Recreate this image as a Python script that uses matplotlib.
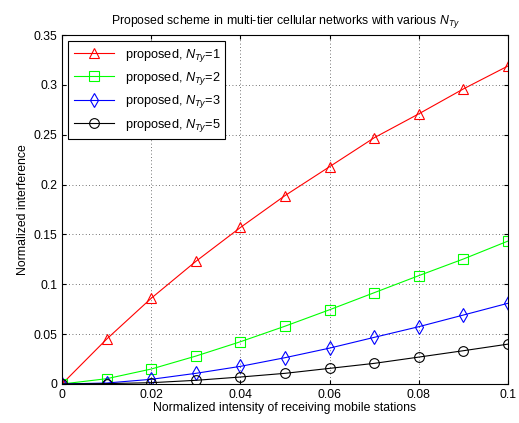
import matplotlib
matplotlib.use("Agg")
import matplotlib.pyplot as plt

plt.rcParams["font.family"] = ["Liberation Sans", "DejaVu Sans"]
plt.rcParams["mathtext.fontset"] = "custom"
plt.rcParams["mathtext.it"] = "Liberation Sans:italic"
plt.rcParams["mathtext.rm"] = "Liberation Sans"

x = [0, 0.01, 0.02, 0.03, 0.04, 0.05, 0.06, 0.07, 0.08, 0.09, 0.1]
nty1 = [0, 0.045, 0.086, 0.123, 0.157, 0.189, 0.218, 0.247, 0.271, 0.296, 0.319]
nty2 = [0, 0.0053, 0.015, 0.028, 0.0424, 0.058, 0.0745, 0.0916, 0.1087, 0.1254, 0.1434]
nty3 = [0, 0.001, 0.0047, 0.0107, 0.0177, 0.0264, 0.036, 0.0468, 0.0575, 0.0692, 0.081]
nty5 = [0, 0.0004, 0.0013, 0.0037, 0.007, 0.0107, 0.0157, 0.0207, 0.027, 0.0334, 0.040]

labels = [r"proposed, $N_{Ty}$=1", r"proposed, $N_{Ty}$=2",
          r"proposed, $N_{Ty}$=3", r"proposed, $N_{Ty}$=5"]

fig = plt.figure(figsize=(5.19, 4.23), dpi=100)
ax = fig.add_axes([0.1195, 0.0922, 0.8595, 0.825])

series = [(nty1, "#ff0000", "^"), (nty2, "#00ff00", "s"),
          (nty3, "#0000ff", "d"), (nty5, "#000000", "o")]
for (ys, col, mk), lab in zip(series, labels):
    ax.plot(x, ys, color=col, marker=mk, markerfacecolor="none",
            markeredgecolor=col, markersize=7, lw=0.8, mew=0.8, label=lab)

ax.set_xlim(0, 0.1)
ax.set_ylim(0, 0.35)
ax.set_xticks([0, 0.02, 0.04, 0.06, 0.08, 0.1])
ax.set_xticklabels(["0", "0.02", "0.04", "0.06", "0.08", "0.1"])
ax.set_yticks([0, 0.05, 0.1, 0.15, 0.2, 0.25, 0.3, 0.35])
ax.set_yticklabels(["0", "0.05", "0.1", "0.15", "0.2", "0.25", "0.3", "0.35"])
ax.tick_params(direction="in", top=True, right=True, labelsize=8.8, length=3)
ax.grid(True, linestyle=(0, (1, 3)), color="#444444", lw=0.6)
for s in ax.spines.values():
    s.set_linewidth(0.8)

ax.set_xlabel("Normalized intensity of receiving mobile stations", fontsize=8.8, labelpad=1)
ax.set_ylabel("Normalized interference", fontsize=8.8, labelpad=3)
ax.set_title(r"Proposed scheme in multi-tier cellular networks with various $N_{Ty}$",
             fontsize=8.8, pad=8)

leg = ax.legend(loc="upper left", fontsize=9.2, fancybox=False, framealpha=1,
                edgecolor="black", borderaxespad=0.5, handlelength=3.2,
                labelspacing=0.5)
leg.get_frame().set_linewidth(0.8)

fig.savefig("out.png", dpi=100)
